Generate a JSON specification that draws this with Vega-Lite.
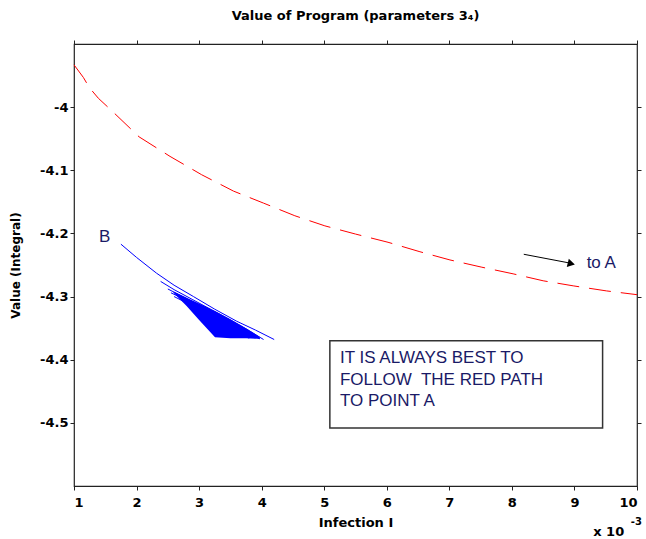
{
  "$schema": "https://vega.github.io/schema/vega-lite/v6.json",
  "width": 563,
  "height": 442,
  "autosize": {"type": "none"},
  "padding": {"left": 74, "top": 44, "right": 9, "bottom": 53},
  "background": "white",
  "title": {"text": "Value of Program (parameters 3₄)", "font": "DejaVu Sans", "fontSize": 13, "fontWeight": "bold", "color": "black", "offset": 17, "anchor": "middle"},
  "config": {
    "view": {"stroke": "#222", "strokeWidth": 1.2},
    "axis": {"grid": false, "domain": false, "ticks": true, "labelFont": "DejaVu Sans", "labelFontWeight": "bold", "labelFontSize": 13, "labelColor": "black", "tickColor": "#222", "tickWidth": 1, "tickOpacity": 1, "tickSize": 4, "titleFont": "DejaVu Sans", "titleFontWeight": "bold", "titleColor": "black"}
  },
  "datasets": {
    "red": [
      {"x": 1.0, "y": -3.933}, {"x": 1.15, "y": -3.953}, {"x": 1.245, "y": -3.969}, {"x": 1.39, "y": -3.986},
      {"x": 1.575, "y": -4.003}, {"x": 2.04, "y": -4.047}, {"x": 2.535, "y": -4.078}, {"x": 3.04, "y": -4.107},
      {"x": 3.55, "y": -4.133}, {"x": 4.03, "y": -4.152}, {"x": 4.53, "y": -4.172}, {"x": 5.01, "y": -4.188},
      {"x": 5.5, "y": -4.201}, {"x": 6.02, "y": -4.214}, {"x": 6.53, "y": -4.229}, {"x": 7.01, "y": -4.242},
      {"x": 7.52, "y": -4.2535}, {"x": 8.02, "y": -4.264}, {"x": 8.5, "y": -4.275}, {"x": 8.98, "y": -4.283},
      {"x": 9.51, "y": -4.291}, {"x": 10.0, "y": -4.297}
    ],
    "blue": [
      {"s": 1, "x": 1.75, "y": -4.217}, {"s": 1, "x": 2.0, "y": -4.238}, {"s": 1, "x": 2.32, "y": -4.263}, {"s": 1, "x": 2.6, "y": -4.282}, {"s": 1, "x": 2.91, "y": -4.3}, {"s": 1, "x": 3.25, "y": -4.32}, {"s": 1, "x": 3.6, "y": -4.339}, {"s": 1, "x": 3.9, "y": -4.353}, {"s": 1, "x": 4.2, "y": -4.368},
      {"s": 2, "x": 2.385, "y": -4.276}, {"s": 2, "x": 2.6, "y": -4.289}, {"s": 2, "x": 2.9, "y": -4.305}, {"s": 2, "x": 3.2, "y": -4.321}, {"s": 2, "x": 3.5, "y": -4.337}, {"s": 2, "x": 3.8, "y": -4.354}, {"s": 2, "x": 4.03, "y": -4.368},
      {"s": 3, "x": 2.5, "y": -4.288}, {"s": 3, "x": 2.8, "y": -4.303}, {"s": 3, "x": 3.1, "y": -4.319}, {"s": 3, "x": 3.4, "y": -4.334}, {"s": 3, "x": 3.7, "y": -4.35}, {"s": 3, "x": 3.97, "y": -4.367},
      {"s": 4, "x": 2.55, "y": -4.294}, {"s": 4, "x": 2.9, "y": -4.311}, {"s": 4, "x": 3.3, "y": -4.331}, {"s": 4, "x": 3.6, "y": -4.347}, {"s": 4, "x": 3.9, "y": -4.366},
      {"s": 5, "x": 2.6, "y": -4.3}, {"s": 5, "x": 3.0, "y": -4.32}, {"s": 5, "x": 3.4, "y": -4.342}, {"s": 5, "x": 3.8, "y": -4.366}
    ],
    "fill": [
      {"x": 2.59, "y": -4.292, "y2": -4.294}, {"x": 2.8, "y": -4.302, "y2": -4.315}, {"x": 3.0, "y": -4.311, "y2": -4.337},
      {"x": 3.254, "y": -4.323, "y2": -4.3645}, {"x": 3.5, "y": -4.336, "y2": -4.366}, {"x": 3.75, "y": -4.35, "y2": -4.366},
      {"x": 3.97, "y": -4.364, "y2": -4.367}
    ],
    "arrow": [{"x": 8.19, "y": -4.233, "x2": 8.93, "y2": -4.247}],
    "head": [{"x": 8.95, "y": -4.248}],
    "box": [{"x": 5.09, "x2": 9.45, "y": -4.37, "y2": -4.508}],
    "notes": [
      {"x": 1.4, "y": -4.206, "t": "B"},
      {"x": 9.195, "y": -4.247, "t": "to A"},
      {"x": 5.252, "y": -4.398, "t": "IT IS ALWAYS BEST TO"},
      {"x": 5.252, "y": -4.432, "t": "FOLLOW\u00a0 THE RED PATH"},
      {"x": 5.252, "y": -4.465, "t": "TO POINT A"}
    ],
    "sci": [{"x": 9.3, "y": -4.673, "t": "x 10"}],
    "sup": [{"x": 9.9, "y": -4.657, "t": "-3"}]
  },
  "resolve": {"axis": {"x": "independent", "y": "independent"}},
  "layer": [
    {
      "data": {"name": "red"},
      "mark": {"type": "line", "color": "#ff0000", "strokeWidth": 1, "strokeDash": [22, 10]},
      "encoding": {
        "x": {"field": "x", "type": "quantitative", "scale": {"domain": [1, 10], "nice": false, "zero": false},
              "axis": {"orient": "bottom", "values": [1, 2, 3, 4, 5, 6, 7, 8, 9, 10], "format": "d", "labelPadding": 6, "title": "Infection I", "titleFontSize": 13, "titlePadding": 7}},
        "y": {"field": "y", "type": "quantitative", "scale": {"domain": [-4.6, -3.9], "nice": false, "zero": false},
              "axis": {"orient": "left", "values": [-4, -4.1, -4.2, -4.3, -4.4, -4.5], "labelExpr": "toString(datum.value)", "labelPadding": 2, "title": "Value (Integral)", "titleFontSize": 12, "titlePadding": 17}}
      }
    },
    {
      "data": {"name": "blue"},
      "mark": {"type": "line", "color": "#0000ff", "strokeWidth": 1},
      "encoding": {
        "x": {"field": "x", "type": "quantitative", "scale": {"domain": [1, 10], "nice": false, "zero": false},
              "axis": {"orient": "top", "values": [1, 2, 3, 4, 5, 6, 7, 8, 9, 10], "labels": false, "title": null}},
        "y": {"field": "y", "type": "quantitative", "scale": {"domain": [-4.6, -3.9], "nice": false, "zero": false},
              "axis": {"orient": "right", "values": [-4, -4.1, -4.2, -4.3, -4.4, -4.5], "labels": false, "title": null}},
        "detail": {"field": "s", "type": "nominal"}
      }
    },
    {
      "data": {"name": "fill"},
      "mark": {"type": "area", "color": "#0000ff", "opacity": 1},
      "encoding": {
        "x": {"field": "x", "type": "quantitative", "scale": {"domain": [1, 10], "nice": false, "zero": false}, "axis": null},
        "y": {"field": "y", "type": "quantitative", "scale": {"domain": [-4.6, -3.9], "nice": false, "zero": false}, "axis": null},
        "y2": {"field": "y2"}
      }
    },
    {
      "data": {"name": "arrow"},
      "mark": {"type": "rule", "color": "black", "strokeWidth": 1},
      "encoding": {
        "x": {"field": "x", "type": "quantitative", "scale": {"domain": [1, 10], "nice": false, "zero": false}, "axis": null},
        "y": {"field": "y", "type": "quantitative", "scale": {"domain": [-4.6, -3.9], "nice": false, "zero": false}, "axis": null},
        "x2": {"field": "x2"},
        "y2": {"field": "y2"}
      }
    },
    {
      "data": {"name": "head"},
      "mark": {"type": "point", "shape": "triangle-right", "filled": true, "color": "black", "size": 70, "angle": 14, "opacity": 1},
      "encoding": {
        "x": {"field": "x", "type": "quantitative", "scale": {"domain": [1, 10], "nice": false, "zero": false}, "axis": null},
        "y": {"field": "y", "type": "quantitative", "scale": {"domain": [-4.6, -3.9], "nice": false, "zero": false}, "axis": null}
      }
    },
    {
      "data": {"name": "box"},
      "mark": {"type": "rect", "fill": "white", "stroke": "#333", "strokeWidth": 1.5},
      "encoding": {
        "x": {"field": "x", "type": "quantitative", "scale": {"domain": [1, 10], "nice": false, "zero": false}, "axis": null},
        "y": {"field": "y", "type": "quantitative", "scale": {"domain": [-4.6, -3.9], "nice": false, "zero": false}, "axis": null},
        "x2": {"field": "x2"},
        "y2": {"field": "y2"}
      }
    },
    {
      "data": {"name": "notes"},
      "mark": {"type": "text", "align": "left", "baseline": "middle", "font": "Liberation Sans", "fontSize": 17, "color": "#1a1a66"},
      "encoding": {
        "x": {"field": "x", "type": "quantitative", "scale": {"domain": [1, 10], "nice": false, "zero": false}, "axis": null},
        "y": {"field": "y", "type": "quantitative", "scale": {"domain": [-4.6, -3.9], "nice": false, "zero": false}, "axis": null},
        "text": {"field": "t"}
      }
    },
    {
      "data": {"name": "sci"},
      "mark": {"type": "text", "align": "left", "baseline": "middle", "font": "DejaVu Sans", "fontWeight": "bold", "fontSize": 13, "color": "black"},
      "encoding": {
        "x": {"field": "x", "type": "quantitative", "scale": {"domain": [1, 10], "nice": false, "zero": false}, "axis": null},
        "y": {"field": "y", "type": "quantitative", "scale": {"domain": [-4.6, -3.9], "nice": false, "zero": false}, "axis": null},
        "text": {"field": "t"}
      }
    },
    {
      "data": {"name": "sup"},
      "mark": {"type": "text", "align": "left", "baseline": "middle", "font": "DejaVu Sans", "fontWeight": "bold", "fontSize": 10, "color": "black"},
      "encoding": {
        "x": {"field": "x", "type": "quantitative", "scale": {"domain": [1, 10], "nice": false, "zero": false}, "axis": null},
        "y": {"field": "y", "type": "quantitative", "scale": {"domain": [-4.6, -3.9], "nice": false, "zero": false}, "axis": null},
        "text": {"field": "t"}
      }
    }
  ]
}
